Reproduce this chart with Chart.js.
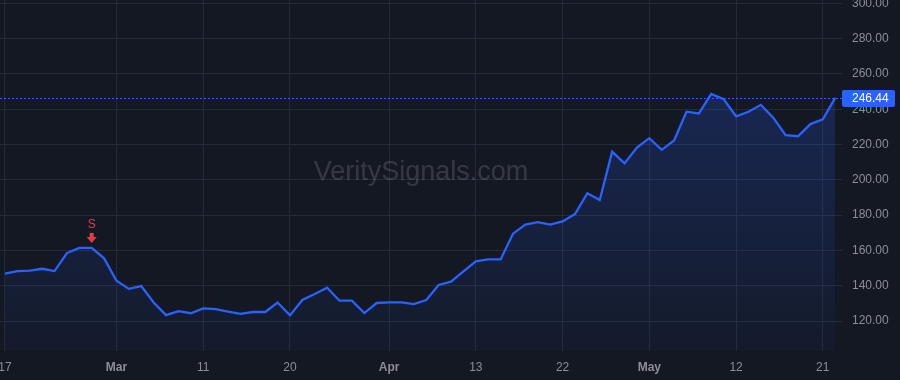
<!DOCTYPE html>
<html>
<head>
<meta charset="utf-8">
<script src="https://cdn.jsdelivr.net/npm/chart.js@4.4.1/dist/chart.umd.min.js"></script>
<style>
  body { margin: 0; background: #141823; }
  #wrap { width: 900px; height: 380px; position: relative; }
</style>
</head>
<body>
<div id="wrap"><canvas id="chart"></canvas></div>
<script>
// closing prices, one per session
const prices = [
  146.9, 148.3, 148.5, 149.6, 148.3, 158.5, 161.4, 161.4, 155.5, 142.8,
  138.2, 139.8, 130.5, 123.3, 125.6, 124.4, 127.1, 126.7, 125.3, 124.0,
  125.1, 125.1, 130.5, 123.2, 131.9, 135.3, 138.9, 131.5, 131.5, 124.5,
  130.2, 130.5, 130.5, 129.6, 131.9, 140.4, 142.3, 148.1, 153.8, 154.9,
  154.9, 169.5, 174.6, 176.0, 174.6, 176.4, 180.6, 192.4, 188.5, 215.9,
  209.3, 218.3, 223.6, 217.0, 222.3, 238.6, 237.6, 248.7, 245.7, 236.0,
  238.6, 242.5, 235.2, 225.3, 224.7, 231.6, 234.3, 246.44
];

// x axis labels and the session they sit on
const tickIndex = [0, 9, 16, 23, 31, 38, 45, 52, 59, 66];
const tickLabels = ['17', 'Mar', '11', '20', 'Apr', '13', '22', 'May', '12', '21'];
const monthLabels = ['Mar', 'Apr', 'May'];

// price scale
const yTicks = [120, 140, 160, 180, 200, 220, 240, 260, 280, 300];

// sell signal
const signalIndex = 7;
const signalText = 'S';

const watermark = 'VeritySignals.com';
const lastPrice = prices[prices.length - 1];

const fontFamily = '"Liberation Sans", Arial, sans-serif';
const blue = '#2962ff';

const points = prices.map((p, i) => ({ x: i, y: p }));

const extras = {
  id: 'extras',
  beforeDatasetsDraw(chart) {
    let ctx = chart.ctx;
    let area = chart.chartArea;
    ctx.save();
    ctx.font = '27px ' + fontFamily;
    ctx.fillStyle = 'rgba(255,255,255,0.14)';
    ctx.textAlign = 'center';
    ctx.textBaseline = 'middle';
    ctx.fillText(watermark, (area.left + area.right) / 2, 173);

    // last price line
    let y = chart.scales.y.getPixelForValue(lastPrice);
    ctx.strokeStyle = blue;
    ctx.lineWidth = 1;
    ctx.setLineDash([2, 2]);
    ctx.beginPath();
    ctx.moveTo(area.left, Math.round(y) + 0.5);
    ctx.lineTo(area.right, Math.round(y) + 0.5);
    ctx.stroke();
    ctx.restore();
  },
  afterDraw(chart) {
    let ctx = chart.ctx;
    let area = chart.chartArea;
    let xs = chart.scales.x;
    let ys = chart.scales.y;
    ctx.save();

    // price label box
    let y = Math.round(ys.getPixelForValue(lastPrice));
    ctx.fillStyle = blue;
    ctx.beginPath();
    ctx.roundRect(area.right, y - 8, 53, 17, 2);
    ctx.fill();
    ctx.fillStyle = '#ffffff';
    ctx.font = '12px ' + fontFamily;
    ctx.textAlign = 'left';
    ctx.textBaseline = 'middle';
    ctx.fillText(lastPrice.toFixed(2), area.right + 10, y + 1);

    // signal arrow + letter
    let sx = xs.getPixelForValue(signalIndex);
    let sy = ys.getPixelForValue(prices[signalIndex]);
    ctx.fillStyle = '#f23645';
    ctx.fillRect(sx - 2, sy - 15, 4, 5);
    ctx.beginPath();
    ctx.moveTo(sx - 5, sy - 11);
    ctx.lineTo(sx + 5, sy - 11);
    ctx.lineTo(sx, sy - 5);
    ctx.closePath();
    ctx.fill();
    ctx.font = '12px ' + fontFamily;
    ctx.textAlign = 'center';
    ctx.fillText(signalText, sx, sy - 23);
    ctx.restore();
  }
};

const chart = new Chart(document.getElementById('chart'), {
  type: 'line',
  data: {
    datasets: [{
      data: points,
      borderColor: blue,
      borderWidth: 2.3,
      pointRadius: 0,
      tension: 0,
      fill: 'start',
      backgroundColor(c) {
        let area = c.chart.chartArea;
        if (!area) return 'rgba(41,98,255,0.15)';
        let g = c.chart.ctx.createLinearGradient(0, area.top, 0, area.bottom);
        g.addColorStop(0, 'rgba(41,98,255,0.28)');
        g.addColorStop(1, 'rgba(41,98,255,0.04)');
        return g;
      }
    }]
  },
  options: {
    responsive: true,
    maintainAspectRatio: false,
    animation: false,
    layout: { padding: 0 },
    plugins: { legend: { display: false }, tooltip: { enabled: false } },
    scales: {
      x: {
        type: 'linear',
        min: -0.4,
        max: 67.55,
        afterBuildTicks(scale) {
          scale.ticks = tickIndex.map(v => ({ value: v }));
        },
        afterFit(scale) {
          scale.height = 29;
          scale.paddingLeft = 0;
          scale.paddingRight = 0;
        },
        grid: { color: '#252a36', drawTicks: false },
        border: { display: false },
        ticks: {
          padding: 9,
          maxRotation: 0,
          autoSkip: false,
          color: '#8b8e96',
          font(c) {
            let label = tickLabels[tickIndex.indexOf(c.tick && c.tick.value)];
            return { family: fontFamily, size: 12, weight: monthLabels.includes(label) ? 'bold' : 'normal' };
          },
          callback(value) {
            return tickLabels[tickIndex.indexOf(value)];
          }
        }
      },
      y: {
        position: 'right',
        min: 103,
        max: 301.9,
        afterBuildTicks(scale) {
          scale.ticks = yTicks.map(v => ({ value: v }));
        },
        afterFit(scale) {
          scale.width = 58;
          scale.paddingTop = 0;
          scale.paddingBottom = 0;
        },
        grid: { color: '#252a36', drawTicks: false },
        border: { display: false },
        ticks: {
          padding: 10,
          color: '#8b8e96',
          font: { family: fontFamily, size: 12 },
          callback(value) {
            return value.toFixed(2);
          }
        }
      }
    }
  },
  plugins: [extras]
});
</script>
</body>
</html>
